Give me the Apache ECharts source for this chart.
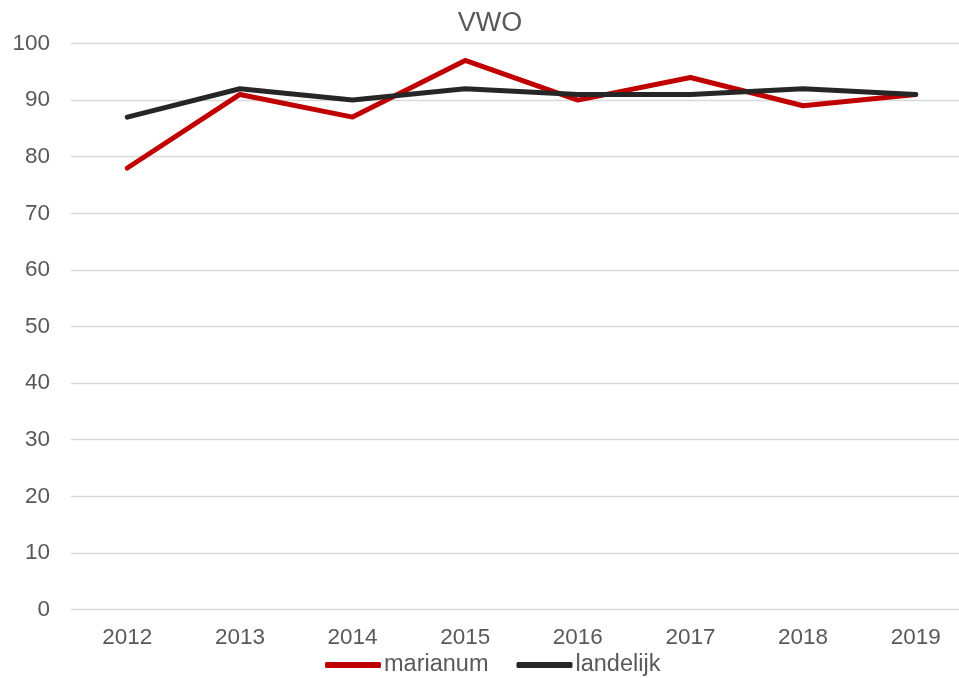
<!DOCTYPE html>
<html><head><meta charset="utf-8">
<script src="https://cdn.jsdelivr.net/npm/echarts@6/dist/echarts.min.js"></script>
<style>html,body{margin:0;padding:0;background:#fff;overflow:hidden;width:959px;height:678px}#c{width:980px;height:678px}</style>
</head><body><div id="c"></div>
<script>
const years = ['2012','2013','2014','2015','2016','2017','2018','2019'];
const marianum = [78, 91, 87, 97, 90, 94, 89, 91];
const landelijk = [87, 92, 90, 92, 91, 91, 92, 91];
const yTicks = [0, 10, 20, 30, 40, 50, 60, 70, 80, 90, 100];

const FONT = 'Liberation Sans, Arial, sans-serif';
const chart = echarts.init(document.getElementById('c'));
chart.setOption({
  animation: false,
  title: { text: 'VWO', left: 'center', top: 5,
    textStyle: { fontFamily: FONT, fontSize: 27, fontWeight: 'normal', color: '#595959' } },
  grid: { left: 71, right: 8, top: 43.5, bottom: 68.5, containLabel: false },
  xAxis: { type: 'category', data: years, boundaryGap: true,
    axisLine: { show: false }, axisTick: { show: false },
    axisLabel: { fontFamily: FONT, fontSize: 22.5, color: '#595959', margin: 17 } },
  yAxis: { type: 'value', min: yTicks[0], max: yTicks[yTicks.length-1], interval: 10,
    axisLine: { show: false }, axisTick: { show: false },
    splitLine: { lineStyle: { color: '#d9d9d9', width: 1.3 } },
    axisLabel: { fontFamily: FONT, fontSize: 22.5, color: '#595959', margin: 21 } },
  legend: { top: 653, left: 325, padding: 0, itemWidth: 56, itemHeight: 6, itemGap: 28,
    icon: 'roundRect',
    textStyle: { fontFamily: FONT, fontSize: 23.5, color: '#595959', padding: [0,0,0,-2] },
    data: ['marianum', 'landelijk'] },
  series: [
    { name: 'marianum', type: 'line', data: marianum, symbol: 'none',
      lineStyle: { color: '#c00000', width: 5, cap: 'round', join: 'round' }, itemStyle: { color: '#c00000' }, z: 2 },
    { name: 'landelijk', type: 'line', data: landelijk, symbol: 'none',
      lineStyle: { color: '#262626', width: 5, cap: 'round', join: 'round' }, itemStyle: { color: '#262626' }, z: 3 }
  ]
});
</script></body></html>
